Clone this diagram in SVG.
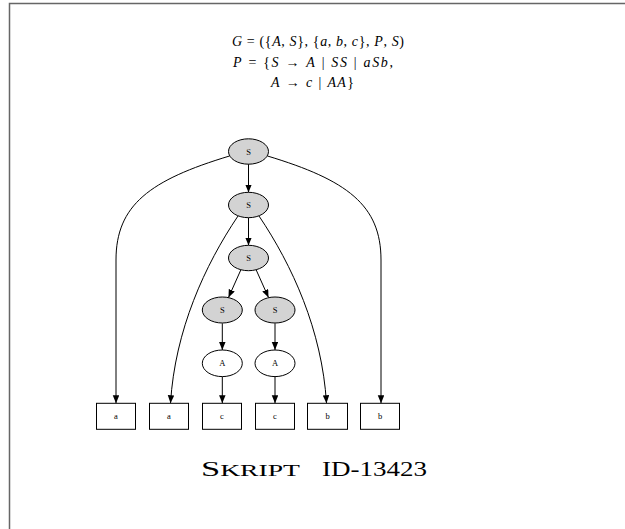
<svg xmlns="http://www.w3.org/2000/svg" width="625" height="529" viewBox="0 0 625 529">
  <defs>
    <marker id="arrow" markerUnits="userSpaceOnUse" markerWidth="9" markerHeight="7" refX="8" refY="3.25" orient="auto">
      <path d="M0,0 L8,3.25 L0,6.5 Z" fill="#000"/>
    </marker>
    <style>
      .frame { fill: none; stroke: #666; stroke-width: 1.5; }
      .nt ellipse { fill: #d3d3d3; stroke: #000; stroke-width: 1; }
      .pre ellipse { fill: #fff; stroke: #000; stroke-width: 1; }
      .t rect { fill: #fff; stroke: #000; stroke-width: 1; }
      .lbl { font-family: "Liberation Serif", "Times New Roman", serif; font-size: 8.5px; text-anchor: middle; fill: #000; }
      .edges path { fill: none; stroke: #000; stroke-width: 1; marker-end: url(#arrow); }
      .math { font-family: "Liberation Serif", "Times New Roman", serif; font-size: 14px; fill: #000; }
      .math .i { font-style: italic; }
      .caption { font-family: "Liberation Serif", "Times New Roman", serif; fill: #000; }
    </style>
  </defs>

  <rect width="625" height="529" fill="#fff"/>
  <path class="frame" d="M9.5,529 V3.5 H625"/>

  <!-- grammar definition -->
  <g id="grammar" class="math">
    <text x="232" y="46" textLength="172" lengthAdjust="spacing"><tspan class="i">G</tspan> = ({<tspan class="i">A</tspan>, <tspan class="i">S</tspan>}, {<tspan class="i">a</tspan>, <tspan class="i">b</tspan>, <tspan class="i">c</tspan>}, <tspan class="i">P</tspan>, <tspan class="i">S</tspan>)</text>
    <text x="233" y="66.5" textLength="160" lengthAdjust="spacing"><tspan class="i">P</tspan> = {<tspan class="i">S</tspan> → <tspan class="i">A</tspan> | <tspan class="i">SS</tspan> | <tspan class="i">aSb</tspan>,</text>
    <text x="271" y="86.5" textLength="83" lengthAdjust="spacing"><tspan class="i">A</tspan> → <tspan class="i">c</tspan> | <tspan class="i">AA</tspan>}</text>
  </g>

  <!-- connectors -->
  <g id="edges" class="edges">
    <path d="M248.5,164 V192.5"/>
    <path d="M248.5,217.5 V245.5"/>
    <path d="M229.5,156 C150,180 116,205 116,260 V403.3"/>
    <path d="M267.5,156 C347,180 381,205 381,260 V403.3"/>
    <path d="M238,216 C205,265 175,330 170.5,403.3"/>
    <path d="M259,216 C292,265 322,330 326.5,403.3"/>
    <path d="M241,269.5 L228.5,297.5"/>
    <path d="M256,269.5 L268.5,297.5"/>
    <path d="M222.3,323.3 V350"/>
    <path d="M275,323.3 V350"/>
    <path d="M222.3,376.7 V403.3"/>
    <path d="M275,376.7 V403.3"/>
  </g>

  <!-- nonterminal S nodes -->
  <g id="s0" class="nt"><ellipse cx="248.5" cy="151.5" rx="20" ry="12.7"/><text class="lbl" x="248.5" y="154.5">S</text></g>
  <g id="s1" class="nt"><ellipse cx="248.5" cy="205" rx="20" ry="12.7"/><text class="lbl" x="248.5" y="208">S</text></g>
  <g id="s2" class="nt"><ellipse cx="248.5" cy="258" rx="20" ry="12.7"/><text class="lbl" x="248.5" y="261">S</text></g>
  <g id="s3" class="nt"><ellipse cx="222.3" cy="310" rx="20" ry="13"/><text class="lbl" x="222.3" y="313">S</text></g>
  <g id="s4" class="nt"><ellipse cx="275" cy="310" rx="20" ry="13"/><text class="lbl" x="275" y="313">S</text></g>

  <!-- A nodes -->
  <g id="a0" class="pre"><ellipse cx="222.3" cy="363.3" rx="20" ry="13.3"/><text class="lbl" x="222.3" y="366.3">A</text></g>
  <g id="a1" class="pre"><ellipse cx="275" cy="363.3" rx="20" ry="13.3"/><text class="lbl" x="275" y="366.3">A</text></g>

  <!-- terminal leaves -->
  <g id="leaf1" class="t"><rect x="96.5" y="403.3" width="39" height="26"/><text class="lbl" x="116" y="419.3">a</text></g>
  <g id="leaf2" class="t"><rect x="149.5" y="403.3" width="39" height="26"/><text class="lbl" x="169" y="419.3">a</text></g>
  <g id="leaf3" class="t"><rect x="202.5" y="403.3" width="39" height="26"/><text class="lbl" x="222" y="419.3">c</text></g>
  <g id="leaf4" class="t"><rect x="255.5" y="403.3" width="39" height="26"/><text class="lbl" x="275" y="419.3">c</text></g>
  <g id="leaf5" class="t"><rect x="307.5" y="403.3" width="40" height="26"/><text class="lbl" x="327.5" y="419.3">b</text></g>
  <g id="leaf6" class="t"><rect x="360.5" y="403.3" width="39" height="26"/><text class="lbl" x="380" y="419.3">b</text></g>

  <!-- caption -->
  <g id="caption" class="caption">
    <text x="201" y="476" font-size="20" textLength="99" lengthAdjust="spacingAndGlyphs">S<tspan font-size="16">KRIPT</tspan></text>
    <text x="322" y="476" font-size="20" textLength="105" lengthAdjust="spacingAndGlyphs">ID-13423</text>
  </g>
</svg>
